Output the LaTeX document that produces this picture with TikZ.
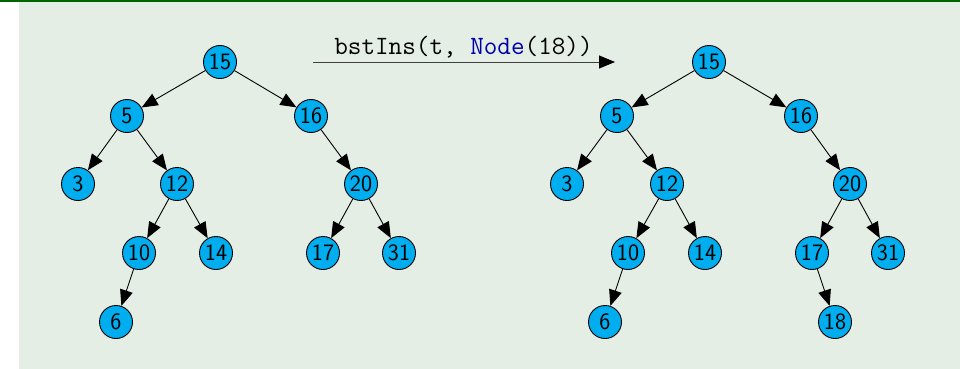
\documentclass[tikz,border=0pt]{standalone}
\usepackage{fontspec}
\usetikzlibrary{arrows.meta}
\definecolor{bgc}{RGB}{228,238,228}
\definecolor{topc}{RGB}{0,100,0}
\definecolor{nodec}{RGB}{0,174,239}
\definecolor{kwc}{RGB}{0,0,170}
\begin{document}
\begin{tikzpicture}[x=1pt,y=-1pt,
  bst/.style={circle,draw=black,line width=0.9pt,fill=nodec,minimum size=33pt,inner sep=0pt,
    font=\fontsize{23.5}{23.5}\selectfont\sffamily},
  edge/.style={line width=0.9pt,-{Triangle[length=16pt,width=13pt]}}]
\useasboundingbox (0,0) rectangle (960,369);
\fill[bgc] (19,0) rectangle (960,369);
\fill[topc] (0,0) rectangle (960,1.8);
% left tree
\node[bst] (a15) at (220,62) {15};
\node[bst] (a5) at (127,116) {5};
\node[bst] (a16) at (311,116) {16};
\node[bst] (a3) at (78,184) {3};
\node[bst] (a12) at (177,184) {12};
\node[bst] (a20) at (361,184) {20};
\node[bst] (a10) at (139,253) {10};
\node[bst] (a14) at (216,253) {14};
\node[bst] (a17) at (323,253) {17};
\node[bst] (a31) at (399,253) {31};
\node[bst] (a6) at (116,322) {6};
\draw[edge] (a15) -- (a5);
\draw[edge] (a15) -- (a16);
\draw[edge] (a5) -- (a3);
\draw[edge] (a5) -- (a12);
\draw[edge] (a12) -- (a10);
\draw[edge] (a12) -- (a14);
\draw[edge] (a10) -- (a6);
\draw[edge] (a16) -- (a20);
\draw[edge] (a20) -- (a17);
\draw[edge] (a20) -- (a31);
% right tree
\node[bst] (b15) at (709,62) {15};
\node[bst] (b5) at (617,116) {5};
\node[bst] (b16) at (801,116) {16};
\node[bst] (b3) at (567,184) {3};
\node[bst] (b12) at (667,184) {12};
\node[bst] (b20) at (850,184) {20};
\node[bst] (b10) at (628,253) {10};
\node[bst] (b14) at (705,253) {14};
\node[bst] (b17) at (812,253) {17};
\node[bst] (b31) at (888,253) {31};
\node[bst] (b6) at (605,322) {6};
\node[bst] (b18) at (835,322) {18};
\draw[edge] (b15) -- (b5);
\draw[edge] (b15) -- (b16);
\draw[edge] (b5) -- (b3);
\draw[edge] (b5) -- (b12);
\draw[edge] (b12) -- (b10);
\draw[edge] (b12) -- (b14);
\draw[edge] (b10) -- (b6);
\draw[edge] (b16) -- (b20);
\draw[edge] (b20) -- (b17);
\draw[edge] (b20) -- (b31);
\draw[edge] (b17) -- (b18);
% operation arrow
\coordinate (opS) at (313,62);
\coordinate (opE) at (615,62);
\draw[line width=0.9pt,draw=black!75,-{Triangle[length=16pt,width=13pt,color=black]}] (opS) -- (opE);
\node[anchor=base,inner sep=0pt,font=\fontsize{26.4}{26.4}\selectfont\ttfamily] (op) at (463.5,55)
  {bstIns(t, \textcolor{kwc}{Node}(18))};
\end{tikzpicture}
\end{document}
